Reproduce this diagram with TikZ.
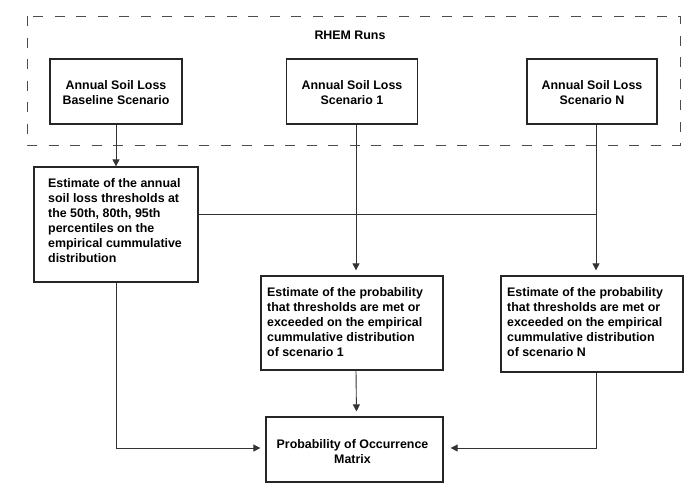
\documentclass[tikz,border=0pt]{standalone}
\usepackage{fontspec}
\setmainfont{Liberation Sans}
\usetikzlibrary{arrows.meta}
\begin{document}
\begin{tikzpicture}[x=1pt,y=-1pt,
  box/.style={draw=black!85,line width=1.3pt,inner sep=0pt},
  txt/.style={font=\fontsize{12.4}{15}\selectfont\bfseries,inner sep=0pt},
  conn/.style={draw=black!80,line width=0.9pt},
  arr/.style={conn,-{Triangle[length=7pt,width=7pt]}},
  runs/.style={draw=black!70,line width=0.9pt,dash pattern=on 10pt off 11.5pt}]
\useasboundingbox (0,0) rectangle (700,488);
\fill[white] (0,0) rectangle (700,488);
% group
\draw[runs] (27,16) rectangle (680,145);
\node[txt] (rhem) at (350,35) {RHEM Runs};
% top boxes
\node[box,minimum width=132pt,minimum height=65pt] (base) at (116,91.5) {};
\node[box,minimum width=131pt,minimum height=65pt] (s1) at (352,91.5) {};
\node[box,minimum width=130pt,minimum height=65pt] (sN) at (592,91.5) {};
\node[txt,align=center] (tbase) at (116,92.5) {Annual Soil Loss\\Baseline Scenario};
\node[txt,align=center] (ts1) at (352,92.5) {Annual Soil Loss\\Scenario 1};
\node[txt,align=center] (tsN) at (592,92.5) {Annual Soil Loss\\Scenario N};
% middle boxes
\node[box,minimum width=164pt,minimum height=115pt] (est) at (116,224.5) {};
\node[txt,align=left,anchor=west] (test) at (48,220.5) {Estimate of the annual\\soil loss thresholds at\\the 50th, 80th, 95th\\percentiles on the\\empirical cummulative\\distribution};
\node[box,minimum width=182pt,minimum height=94pt] (p1) at (352,323) {};
\node[txt,align=left,anchor=west] (tp1) at (267,322) {Estimate of the probability\\that thresholds are met or\\exceeded on the empirical\\cummulative distribution\\of scenario 1};
\node[box,minimum width=182pt,minimum height=96pt] (pN) at (592,324) {};
\node[txt,align=left,anchor=west] (tpN) at (507,322) {Estimate of the probability\\that thresholds are met or\\exceeded on the empirical\\cummulative distribution\\of scenario N};
% bottom box
\node[box,minimum width=177pt,minimum height=65pt] (mat) at (354.5,449.5) {};
\node[txt,align=center] (tmat) at (352.5,452) {Probability of Occurrence\\Matrix};
% connectors
\coordinate (j) at (596,214);
\coordinate (lb) at (116,448);
\coordinate (rb) at (596,448);
\draw[arr] (base.south) -- (est.north);
\draw[conn] (j -| est.east) -- (j);
\draw[arr,shorten >=5pt] ([xshift=4pt]s1.south) -- ([xshift=4pt]p1.north);
\draw[arr,shorten >=5pt] ([xshift=4pt]sN.south) -- ([xshift=4pt]pN.north);
\draw[arr,shorten >=5pt] ([xshift=4pt]p1.south) -- ([xshift=2pt]mat.north);
\draw[arr,shorten >=5pt] (est.south) -- (lb) -- (lb -| mat.west);
\draw[arr,shorten >=7pt] ([xshift=4pt]pN.south) -- (rb) -- (rb -| mat.east);
\end{tikzpicture}
\end{document}
